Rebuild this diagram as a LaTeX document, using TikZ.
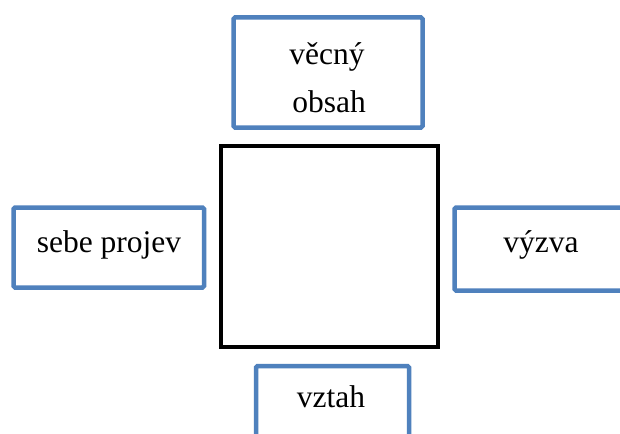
\documentclass[tikz,border=0pt]{standalone}
\usepackage{fontspec}
\setmainfont{Liberation Serif}
\definecolor{boxblue}{RGB}{79,129,189}
\begin{document}
\begin{tikzpicture}[x=1pt,y=-1pt,
  bluebox/.style={draw=boxblue,line width=4.5pt,rounded corners=1.5pt,fill=white,inner sep=0pt},
  blackbox/.style={draw=black,line width=4pt,inner sep=0pt},
  lbl/.style={anchor=base,inner sep=0pt,font=\fontsize{31.5}{38}\selectfont}]
\clip (0,0) rectangle (620,433);
\fill[white] (0,0) rectangle (620,433);
% boxes
\node[bluebox,minimum width=189pt,minimum height=110pt] (topbox) at (328,72.5) {};
\node[bluebox,minimum width=190.5pt,minimum height=80pt] (leftbox) at (108.75,247.5) {};
\node[bluebox,minimum width=195.5pt,minimum height=83pt] (rightbox) at (552.25,249) {};
\node[bluebox,minimum width=153pt,minimum height=94pt] (bottombox) at (332.5,413) {};
\node[blackbox,minimum width=217pt,minimum height=201pt] (center) at (329.5,246.5) {};
% texts
\node[lbl] (t1) at (327,65) {věcný};
\node[lbl] (t2) at (329,113) {obsah};
\node[lbl] (t3) at (109,252) {sebe projev};
\node[lbl] (t4) at (541,252) {výzva};
\node[lbl] (t5) at (331,407) {vztah};
\end{tikzpicture}
\end{document}
